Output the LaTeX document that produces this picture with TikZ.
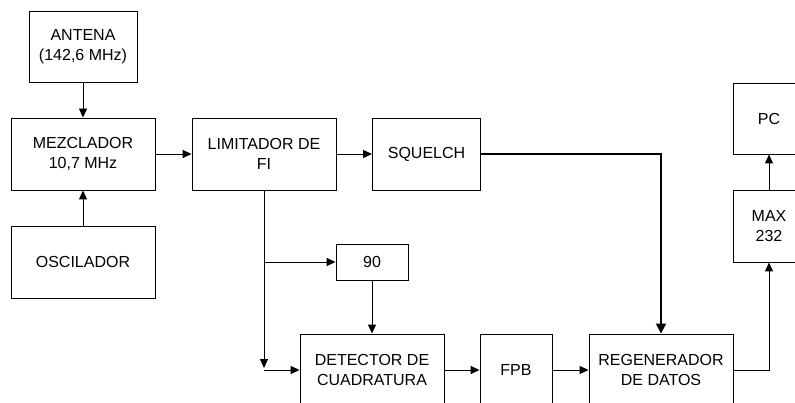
\documentclass[tikz,border=0pt]{standalone}
\usepackage{fontspec}
\setmainfont{Liberation Sans}
\usetikzlibrary{arrows, arrows.meta, math, positioning}

\tikzset{
bloque/.style={draw, line width=0.9pt, align=center, inner sep=0pt,
  minimum width=\w pt, minimum height=\h pt, font=\fontsize{16}{19.5}\selectfont},
flecha/.style={line width=0.9pt, -{Triangle[length=9pt,width=8pt]}},
}

\begin{document}
\begin{tikzpicture}[x=1pt,y=-1pt]
\tikzmath{
\w=144;
\h=72;
\c=36;
}
\useasboundingbox (0,0) rectangle (795,403);
\clip (0,0) rectangle (795,403);

%%%%%%%%%%   receptor
\node[bloque, minimum width=108pt, minimum height=71pt] (ant) at (83,46.5) {ANTENA\\(142,6 MHz)};
\node[bloque] (mez) at (83,154) {MEZCLADOR\\10,7 MHz};
\node[bloque] (osc) at (83,262) {OSCILADOR};
\node[bloque] (lim) at (264,154) {LIMITADOR DE\\FI};
\node[bloque, minimum width=108pt] (sq) at (426.5,154) {SQUELCH};
\node[bloque, minimum width=2*\c pt, minimum height=\c pt] (nov) at (372,262) {90};

%%%%%%%%%%   demodulador
\node[bloque] (det) at (372,370) {DETECTOR DE\\CUADRATURA};
\node[bloque, minimum width=\h pt] (fpb) at (516,370) {FPB};
\node[bloque] (reg) at (661,370) {REGENERADOR\\DE DATOS};
\node[bloque, minimum width=\h pt] (max) at (769,226) {MAX\\232};
\node[bloque, minimum width=\h pt, minimum height=71pt] (pc) at (769,118.5) {PC};

\coordinate (rama) at (lim.south |- nov.west);
\coordinate (esq) at (lim.south |- det.west);

\draw[flecha] (ant) -- (mez);
\draw[flecha] (osc) -- (mez);
\draw[flecha] (mez) -- (lim);
\draw[flecha] (lim) -- (sq);
\draw[line width=1.8pt, -{Triangle[length=10pt,width=10pt]}] (sq.east) -| (reg.north);
\draw[flecha] (lim.south) -- ([yshift=2pt]esq);
\draw[flecha] (rama) -- (nov.west);
\draw[flecha] (esq) -- (det.west);
\draw[flecha] (nov) -- (det);
\draw[flecha] (det) -- (fpb);
\draw[flecha] (fpb) -- (reg);
\draw[flecha] (reg.east) -| (max.south);
\draw[flecha] (max) -- (pc);
\end{tikzpicture}
\end{document}
